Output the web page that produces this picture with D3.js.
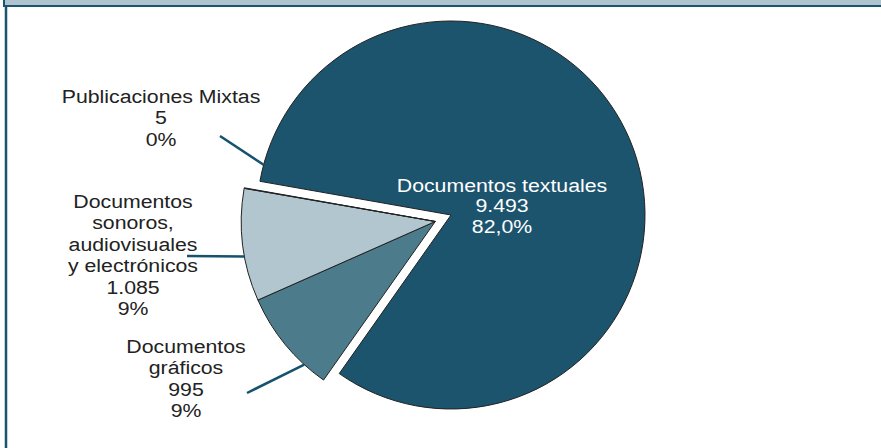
<!DOCTYPE html>
<html>
<head>
<meta charset="utf-8">
<script src="https://cdn.jsdelivr.net/npm/d3@7"></script>
<style>
  body { margin: 0; background: #fff; }
  svg { display: block; }
</style>
</head>
<body>
<div id="chart"></div>
<script>
// data
const categories = ["Documentos textuales", "Documentos gráficos", "Documentos sonoros, audiovisuales y electrónicos", "Publicaciones Mixtas"];
const values = [9493, 995, 1085, 5];
const valueLabels = ["9.493", "995", "1.085", "5"];
const pctLabels = ["82,0%", "9%", "9%", "0%"];
const labelLines = [
    ["Documentos textuales", "9.493", "82,0%"],
    ["Documentos", "gráficos", "995", "9%"],
    ["Documentos", "sonoros,", "audiovisuales", "y electrónicos", "1.085", "9%"],
    ["Publicaciones Mixtas", "5", "0%"]
];

const width = 881, height = 448;
const cx = 451, cy = 215, radius = 194;
const explode = 17;
const colors = ["#1c546e", "#4c7b8c", "#b1c6cf", "#b1c6cf"];
const textColors = ["#fff", "#222", "#222", "#222"];
// label anchor (center x, first baseline) and leader line start / angle on the rim
const labelPos = [[502, 192], [186, 353], [133, 208], [161, 103]];
const leaders = [null, {x: 247, y: 393, a: 222.5}, {x: 187, y: 256, a: 259.6}, {x: 220, y: 136, a: 285}];

const svg = d3.select("#chart").append("svg")
    .attr("width", width)
    .attr("height", height);

// frame: top band + left rule
svg.append("rect")
    .attr("x", 4).attr("y", -4)
    .attr("width", width + 10).attr("height", 10)
    .attr("fill", "#afc4cf")
    .attr("stroke", "#1b5470")
    .attr("stroke-width", 2);

svg.append("line")
    .attr("x1", 6).attr("x2", 6)
    .attr("y1", 6).attr("y2", height)
    .attr("stroke", "#1b5470")
    .attr("stroke-width", 2.5);

const pie = d3.pie()
    .sort(null)
    .startAngle(-80 * Math.PI / 180)
    .endAngle(280 * Math.PI / 180)
    .value(d => d);

const arcs = pie(values);

const arc = d3.arc()
    .innerRadius(0)
    .outerRadius(radius);

// the small slices are pulled out together
const groupMid = (arcs[1].startAngle + arcs[3].endAngle) / 2;
const offX = Math.sin(groupMid) * explode;
const offY = -Math.cos(groupMid) * explode;

const g = svg.append("g")
    .attr("transform", `translate(${cx},${cy})`);

g.selectAll("path")
    .data(arcs)
    .enter().append("path")
    .attr("d", arc)
    .attr("transform", (d, i) => i === 0 ? null : `translate(${offX},${offY})`)
    .attr("fill", (d, i) => colors[i])
    .attr("stroke", "#222")
    .attr("stroke-width", 1);

// leader lines
leaders.forEach((l, i) => {
    if (!l) return;
    const a = l.a * Math.PI / 180;
    const ox = i === 3 ? 0 : offX, oy = i === 3 ? 0 : offY;
    svg.append("line")
        .attr("x1", l.x).attr("y1", l.y)
        .attr("x2", cx + ox + Math.sin(a) * radius)
        .attr("y2", cy + oy - Math.cos(a) * radius)
        .attr("stroke", "#15526f")
        .attr("stroke-width", 2.5);
});

// labels
labelLines.forEach((lines, i) => {
    const t = svg.append("text")
        .attr("transform", `translate(${labelPos[i][0]},${labelPos[i][1]}) scale(1.12,1)`)
        .attr("text-anchor", "middle")
        .style("font-family", "Arial, 'Liberation Sans', sans-serif")
        .style("font-size", "19px")
        .attr("fill", textColors[i]);
    lines.forEach((s, j) => {
        t.append("tspan")
            .attr("x", 0)
            .attr("y", j * (i === 0 ? 20.5 : 21.5))
            .text(s);
    });
});
</script>
</body>
</html>
